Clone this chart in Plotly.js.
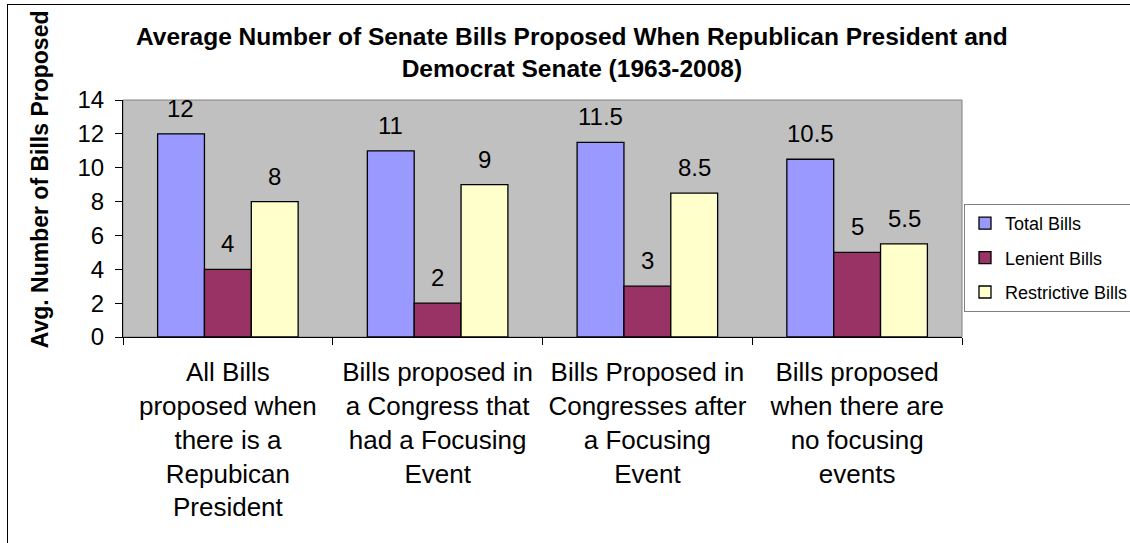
<!DOCTYPE html>
<html>
<head>
<meta charset="utf-8">
<script src="https://cdn.plot.ly/plotly-3.0.1.min.js"></script>
<style>
  html, body { margin: 0; padding: 0; background: #ffffff; }
  #wrap { position: relative; width: 1130px; height: 543px; overflow: hidden; }
  #chart { position: absolute; left: 0; top: 0; width: 1130px; height: 543px; }
  #frame { position: absolute; left: 7px; top: 4px; width: 1200px; height: 700px;
           border-left: 1.5px solid #000; border-top: 1.5px solid #000; pointer-events: none; }
</style>
</head>
<body>
<div id="wrap">
  <div id="chart"></div>
  <div id="frame"></div>
</div>
<script>
const categories = [
  "All Bills<br>proposed when<br>there is a<br>Repubican<br>President",
  "Bills proposed in<br>a Congress that<br>had a Focusing<br>Event",
  "Bills Proposed in<br>Congresses after<br>a Focusing<br>Event",
  "Bills proposed<br>when there are<br>no focusing<br>events"
];
const seriesNames = ["Total Bills", "Lenient Bills", "Restrictive Bills"];
const totalBills = [12, 11, 11.5, 10.5];
const lenientBills = [4, 2, 3, 5];
const restrictiveBills = [8, 9, 8.5, 5.5];
const seriesValues = [totalBills, lenientBills, restrictiveBills];
const seriesColors = ["#9999FF", "#993366", "#FFFFCC"];

const FONT = "Liberation Sans, Arial, sans-serif";

const traces = seriesValues.map((vals, i) => ({
  type: "bar",
  name: seriesNames[i],
  x: categories,
  y: vals,
  legendgroup: "g" + i,
  marker: { color: seriesColors[i], line: { color: "#000000", width: 1.3 } },
  hoverinfo: "y"
}));

const barPx = 47;
const annotations = [];
seriesValues.forEach((vals, i) => {
  vals.forEach((v, j) => {
    annotations.push({
      x: categories[j], y: v, xref: "x", yref: "y",
      text: String(v), showarrow: false,
      xanchor: "center", yanchor: "bottom",
      xshift: (i - 1) * barPx, yshift: 10,
      font: { family: FONT, size: 24, color: "#000" }
    });
  });
});
annotations.push({
  xref: "paper", yref: "paper", x: -0.099, y: 0.665,
  text: "<b>Avg. Number of Bills Proposed</b>", textangle: -90,
  showarrow: false, xanchor: "center", yanchor: "middle",
  font: { family: FONT, size: 23, color: "#000" }
});
annotations.push({
  xref: "paper", yref: "paper", x: 0.535, y: 1.2025,
  text: "<b>Average Number of Senate Bills Proposed When Republican President and<br>Democrat Senate (1963-2008)</b>",
  showarrow: false, xanchor: "center", yanchor: "middle",
  font: { family: FONT, size: 24.5, color: "#000" }
});

const layout = {
  width: 1130, height: 543,
  margin: { l: 123, r: 168, t: 100, b: 206, autoexpand: false },
  paper_bgcolor: "#ffffff",
  plot_bgcolor: "#C0C0C0",
  barmode: "group",
  bargap: 0.33,
  bargroupgap: 0,
  showlegend: true,
  xaxis: {
    type: "category",
    tickson: "boundaries",
    ticks: "outside", ticklen: 7, tickcolor: "#000", tickwidth: 1,
    showline: true, linecolor: "#000", linewidth: 1,
    showgrid: false, zeroline: false,
    ticklabelstandoff: 12,
    tickfont: { family: FONT, size: 26, color: "#000" }
  },
  yaxis: {
    range: [0, 14], dtick: 2, tick0: 0,
    ticks: "outside", ticklen: 7, tickcolor: "#000", tickwidth: 1,
    showline: true, linecolor: "#000", linewidth: 1,
    showgrid: false, zeroline: false,
    ticklabelstandoff: 6,
    tickfont: { family: FONT, size: 24, color: "#000" }
  },
  legend: {
    xref: "container", yref: "container",
    x: 964 / 1130, xanchor: "left", y: 1 - 204 / 543, yanchor: "top",
    bgcolor: "#ffffff", bordercolor: "#808080", borderwidth: 1,
    traceorder: "grouped", tracegroupgap: 8,
    font: { family: FONT, size: 18, color: "#000" },
    itemwidth: 30
  },
  shapes: [{
    type: "rect", xref: "paper", yref: "paper", x0: 0, x1: 1, y0: 0, y1: 1,
    line: { color: "#808080", width: 1 }, layer: "below"
  }],
  annotations: annotations
};

Plotly.newPlot("chart", traces, layout, { displayModeBar: false, staticPlot: true });
</script>
</body>
</html>
